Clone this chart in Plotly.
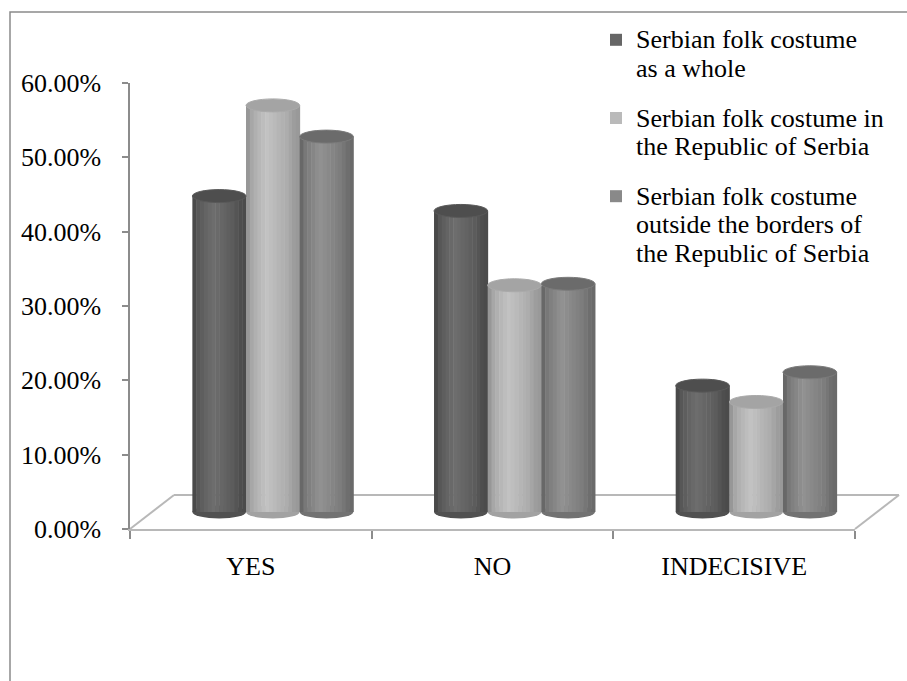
import plotly.graph_objects as go

# ---------------- data ----------------
categories = ["YES", "NO", "INDECISIVE"]
series_names = [
    "Serbian folk costume<br>as a whole",
    "Serbian folk costume in<br>the Republic of Serbia",
    "Serbian folk costume<br>outside the borders of<br>the Republic of Serbia",
]
as_a_whole = [0.425, 0.405, 0.170]
in_republic = [0.547, 0.305, 0.148]
outside_borders = [0.505, 0.307, 0.188]
y_tick_values = [0.0, 0.1, 0.2, 0.3, 0.4, 0.5, 0.6]
y_tick_labels = ["0.00%", "10.00%", "20.00%", "30.00%", "40.00%", "50.00%", "60.00%"]

# ---------------- styling ----------------
series_values = [as_a_whole, in_republic, outside_borders]
shade_levels = [(64, 110), (140, 195), (94, 146)]
top_colors = ["#4e4e4e", "#a4a4a4", "#6b6b6b"]
FONT = "Liberation Serif, Times New Roman, serif"

W, H = 907, 681
L, R, T, B = 130, 30, 66, 141
PW, PH = W - L - R, H - T - B


def px_x(px):
    return (px - L) / PW


def px_y(py):
    return (H - B - py) / PH


FRONT_L, FRONT_R, FRONT_BOT, FRONT_TOP = 130, 855, 529, 83
DX, DY = 22, 17
YMAX = 0.6
PX_PER_UNIT = (FRONT_BOT - FRONT_TOP) / YMAX
Y2_LOW = -0.03
y2_bottom_px = FRONT_BOT - DY - Y2_LOW * PX_PER_UNIT

bar_w = 0.222
group_offsets = [-1.5 * bar_w, -0.5 * bar_w, 0.5 * bar_w]
K = 14


def profile(t):
    pts = [(0.0, 0.05), (0.12, 0.55), (0.38, 1.0), (0.75, 0.6), (0.95, 0.2), (1.0, 0.3)]
    for (t0, v0), (t1, v1) in zip(pts[:-1], pts[1:]):
        if t0 <= t <= t1:
            return v0 + (v1 - v0) * (t - t0) / (t1 - t0)
    return 0.0


def gray(v):
    v = int(round(max(0, min(255, v))))
    return f"rgb({v},{v},{v})"


fig = go.Figure()

fig.add_trace(go.Scatter(x=categories, y=as_a_whole, xaxis="x", yaxis="y",
                         mode="markers", marker=dict(opacity=0),
                         showlegend=False, hoverinfo="skip"))

shapes = []
shapes.append(dict(type="rect", xref="paper", yref="paper",
                   x0=px_x(10), x1=px_x(1100), y0=px_y(900), y1=px_y(12),
                   line=dict(color="#8a8a8a", width=1.5), layer="below"))
floor_col = "#b8b8b8"
for (xa, ya, xb, yb) in [
    (FRONT_L, FRONT_BOT, FRONT_L + 2 * DX, FRONT_BOT - 2 * DY),
    (FRONT_L + 2 * DX, FRONT_BOT - 2 * DY, FRONT_R + 2 * DX, FRONT_BOT - 2 * DY),
    (FRONT_R, FRONT_BOT, FRONT_R + 2 * DX, FRONT_BOT - 2 * DY),
]:
    shapes.append(dict(type="line", xref="paper", yref="paper",
                       x0=px_x(xa), y0=px_y(ya), x1=px_x(xb), y1=px_y(yb),
                       line=dict(color=floor_col, width=2), layer="below"))

ry = 6.5 / PX_PER_UNIT
span = "<span style='font-size:26px'>"
for s, (vals, name) in enumerate(zip(series_values, series_names)):
    lo, hi = shade_levels[s]
    legend_name = span + name.replace("<br>", "</span><br>" + span) + "</span>"
    for k in range(K):
        t = (k + 0.5) / K
        col = gray(lo + (hi - lo) * profile(t))
        fig.add_trace(go.Bar(
            x=categories, y=vals, xaxis="x2", yaxis="y2",
            width=bar_w / K + 0.002, offset=group_offsets[s] + k * bar_w / K,
            marker=dict(color=col, line=dict(width=0)),
            name=legend_name, legendgroup=f"g{s}", showlegend=(k == K // 2),
            hovertemplate="%{x}: %{y:.2%}<extra></extra>",
        ))
    for i, v in enumerate(vals):
        x0 = i + group_offsets[s]
        x1 = x0 + bar_w
        shapes.append(dict(type="circle", xref="x2", yref="y2",
                           x0=x0, x1=x1, y0=-ry, y1=ry,
                           fillcolor=gray((lo + hi) / 2 - 6), line=dict(width=0),
                           layer="below"))
        shapes.append(dict(type="circle", xref="x2", yref="y2",
                           x0=x0, x1=x1, y0=v - ry, y1=v + ry,
                           fillcolor=top_colors[s],
                           line=dict(color=gray(lo + (hi - lo) * 0.55), width=1),
                           layer="above"))

fig.update_layout(
    width=W, height=H,
    margin=dict(l=L, r=R, t=T, b=B, pad=0),
    paper_bgcolor="white", plot_bgcolor="rgba(0,0,0,0)",
    barmode="overlay",
    font=dict(family=FONT, size=25, color="black"),
    showlegend=True,
    legend=dict(
        x=px_x(596), y=px_y(19), xanchor="left", yanchor="top",
        font=dict(family=FONT, size=22, color="black"),
        traceorder="grouped", tracegroupgap=18, valign="top",
        bgcolor="rgba(0,0,0,0)", itemclick=False, itemdoubleclick=False,
    ),
    xaxis=dict(
        domain=[px_x(FRONT_L), px_x(FRONT_R)], anchor="y",
        type="category", categoryorder="array", categoryarray=categories,
        range=[-0.5, 2.5],
        showline=True, linecolor=floor_col, linewidth=2,
        ticks="outside", tickson="boundaries", ticklen=8, tickcolor="#8c8c8c", tickwidth=1.5,
        showgrid=False, zeroline=False,
        tickfont=dict(family=FONT, size=26, color="black"),
        ticklabelstandoff=13,
    ),
    yaxis=dict(
        domain=[px_y(FRONT_BOT), px_y(FRONT_TOP)], anchor="x",
        range=[0, YMAX], tickmode="array", tickvals=y_tick_values, ticktext=y_tick_labels,
        showline=True, linecolor="#8c8c8c", linewidth=1.5,
        ticks="outside", ticklen=6, tickcolor="#8c8c8c", tickwidth=1.5,
        showgrid=False, zeroline=False,
        tickfont=dict(family=FONT, size=26, color="black"),
        ticklabelstandoff=16,
    ),
    xaxis2=dict(
        domain=[px_x(FRONT_L + DX), px_x(FRONT_R + DX)], anchor="y2",
        type="category", categoryorder="array", categoryarray=categories,
        range=[-0.5, 2.5], visible=False,
    ),
    yaxis2=dict(
        domain=[px_y(y2_bottom_px), px_y(FRONT_TOP - DY)], anchor="x2",
        range=[Y2_LOW, YMAX], visible=False,
    ),
    shapes=shapes,
)

fig.write_html("out.html")
